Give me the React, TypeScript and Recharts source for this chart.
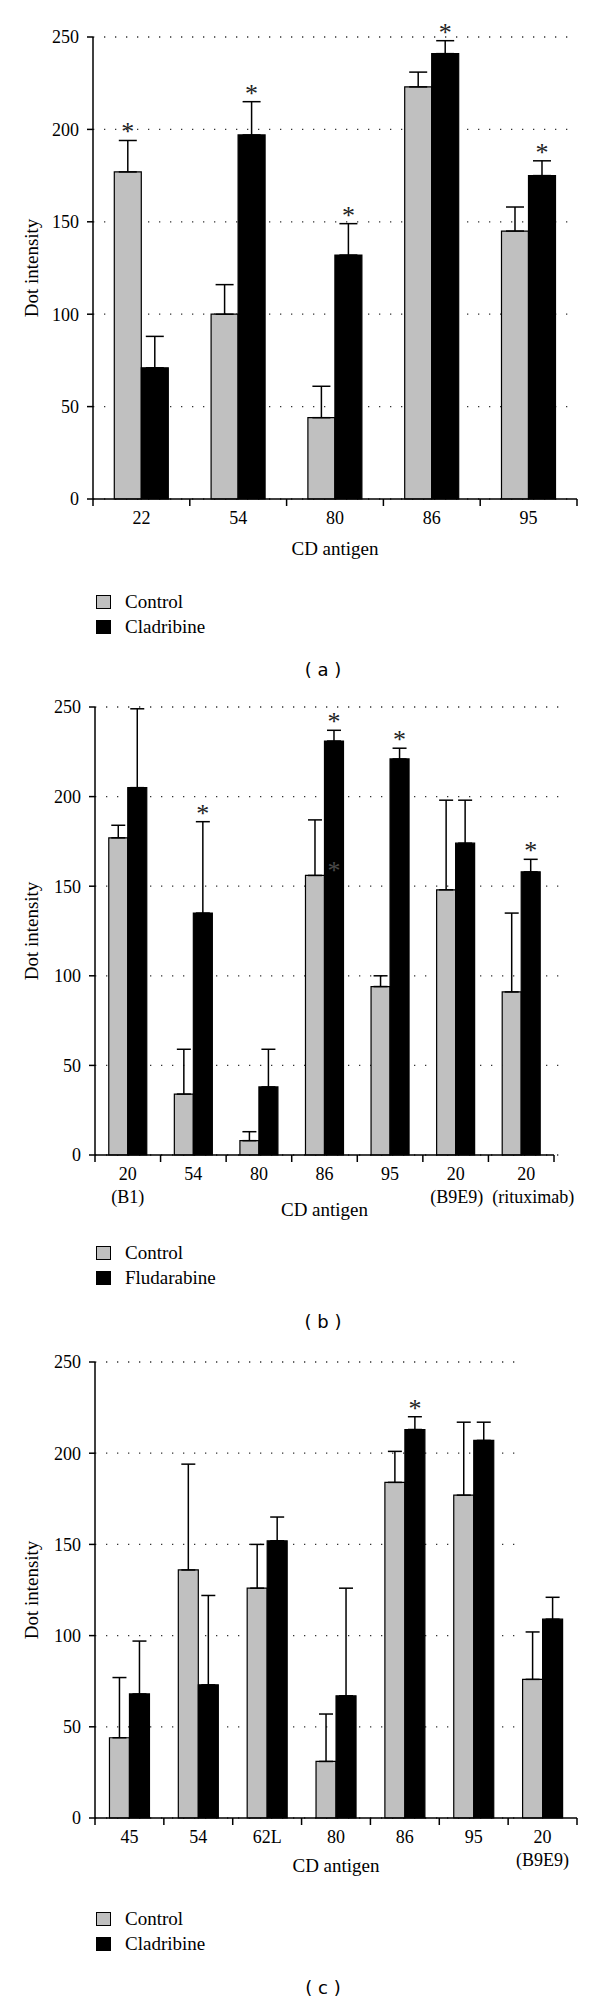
import React from 'react'
import { BarChart, Bar, XAxis, YAxis, CartesianGrid, ErrorBar, LabelList, Legend } from 'recharts'

const SERIF = '"Liberation Serif", "Times New Roman", serif'
const Y_TICKS = [0, 50, 100, 150, 200, 250]

// (a) CD antigens, control vs cladribine
const A_ANTIGENS = ['22', '54', '80', '86', '95']
const A_CONTROL = [177, 100, 44, 223, 145]
const A_CONTROL_ERR = [17, 16, 17, 8, 13]
const A_DRUG = [71, 197, 132, 241, 175]
const A_DRUG_ERR = [17, 18, 17, 7, 8]
const A_CONTROL_STARS = [true, false, false, false, false]
const A_DRUG_STARS = [false, true, true, true, true]

// (b) control vs fludarabine
const B_ANTIGENS = ['20\n(B1)', '54', '80', '86', '95', '20\n(B9E9)', '20\n(rituximab)']
const B_CONTROL = [177, 34, 8, 156, 94, 148, 91]
const B_CONTROL_ERR = [7, 25, 5, 31, 6, 50, 44]
const B_DRUG = [205, 135, 38, 231, 221, 174, 158]
const B_DRUG_ERR = [44, 51, 21, 6, 6, 24, 7]
const B_CONTROL_STARS = [false, false, false, false, false, false, false]
const B_DRUG_STARS = [false, true, false, true, true, false, true]
// faint stray asterisk printed on the CD86 bar in the original figure
const B_DRUG_GHOST = [null, null, null, 154, null, null, null]

// (c) control vs cladribine, second set
const C_ANTIGENS = ['45', '54', '62L', '80', '86', '95', '20\n(B9E9)']
const C_CONTROL = [44, 136, 126, 31, 184, 177, 76]
const C_CONTROL_ERR = [33, 58, 24, 26, 17, 40, 26]
const C_DRUG = [68, 73, 152, 67, 213, 207, 109]
const C_DRUG_ERR = [29, 49, 13, 59, 7, 10, 12]
const C_CONTROL_STARS = [false, false, false, false, false, false, false]
const C_DRUG_STARS = [false, false, false, false, true, false, false]

const TICK_SIZE = 7
const TICK_MARGIN = 5
const CHART_W = 600
const Y_AXIS_W = 73
const SERIES_ORDER = ['control', 'drug']

function AntigenTick(props: any) {
  const { x, y, payload, index, visibleTicksCount, band, shift } = props
  const axisY = y - TICK_SIZE - TICK_MARGIN
  const lines = String(payload.value).split('\n')
  const last = index === visibleTicksCount - 1
  const dxs: number[] = (shift && shift[index]) || []
  return (
    <g>
      <line x1={x - band / 2} x2={x - band / 2} y1={axisY} y2={axisY + TICK_SIZE} stroke="#000" strokeWidth={1.5} />
      {last && (
        <line x1={x + band / 2} x2={x + band / 2} y1={axisY} y2={axisY + TICK_SIZE} stroke="#000" strokeWidth={1.5} />
      )}
      <text x={x} y={y} textAnchor="middle" fontSize={18} fill="#000" fontFamily={SERIF}>
        {lines.map((l, i) => (
          <tspan key={i} x={x + (dxs[i] || 0)} dy={i === 0 ? '0.71em' : '1.3em'}>
            {l}
          </tspan>
        ))}
      </text>
    </g>
  )
}

// asterisks sit just above the error bar cap; pixels per unit come from the bar itself
const starContent =
  (values: number[], errs: number[], stars: boolean[], ghost?: (number | null)[]) => (p: any) => {
    const vb = p.viewBox ?? p
    const i = p.index
    const v = values[i]
    if (!v || vb == null) return null
    const h = Math.abs(vb.height)
    const top = Math.min(vb.y, vb.y + vb.height)
    const perUnit = h / v
    const cx = vb.x + vb.width / 2
    return (
      <g>
        {stars[i] && (
          <text x={cx} y={top - errs[i] * perUnit} textAnchor="middle" fontSize={26} fill="#222" fontFamily={SERIF}>
            *
          </text>
        )}
        {ghost && ghost[i] != null && (
          <text x={cx} y={top + h - (ghost[i] as number) * perUnit} textAnchor="middle" fontSize={26} fill="#4a4a4a" fontFamily={SERIF}>
            *
          </text>
        )}
      </g>
    )
  }

const renderLegend = (props: any) => {
  const items = [...(props.payload || [])].sort(
    (a: any, b: any) => SERIES_ORDER.indexOf(a.dataKey) - SERIES_ORDER.indexOf(b.dataKey)
  )
  return (
    <div style={{ fontFamily: SERIF, fontSize: 19, color: '#000' }}>
      {items.map((item: any) => (
        <div key={item.value} style={{ display: 'flex', alignItems: 'center', height: 25 }}>
          <span
            style={{
              display: 'inline-block',
              width: 13,
              height: 12,
              background: item.color,
              border: '1px solid #000',
            }}
          />
          <span style={{ marginLeft: 14 }}>{item.value}</span>
        </div>
      ))}
    </div>
  )
}

interface PanelProps {
  top: number
  height: number
  antigens: string[]
  control: number[]
  controlErr: number[]
  drug: number[]
  drugErr: number[]
  controlStars: boolean[]
  drugStars: boolean[]
  drugGhost?: (number | null)[]
  drugName: string
  caption: string
  margin: { top: number; right: number; left: number; bottom: number }
  gap: string
  cap: number
  gridTrim: number
  titleOffset: number
  legendTop: number
  captionTop: number
  tickShift?: number[][]
}

function Panel(p: PanelProps) {
  const data = p.antigens.map((name, i) => ({
    name,
    control: p.control[i],
    controlErr: [0, p.controlErr[i]],
    drug: p.drug[i],
    drugErr: [0, p.drugErr[i]],
  }))
  const plotWidth = CHART_W - p.margin.left - p.margin.right - Y_AXIS_W
  const band = plotWidth / p.antigens.length

  return (
    <>
      <div style={{ position: 'absolute', left: 0, top: p.top, fontFamily: SERIF }}>
        <BarChart
          width={CHART_W}
          height={p.height}
          data={data}
          margin={p.margin}
          barCategoryGap={p.gap}
          barGap={0}
        >
          <CartesianGrid
            vertical={false}
            horizontal={(g: any) => (
              <line
                key={g.key}
                x1={g.x1}
                y1={g.y1}
                x2={g.x2 + p.gridTrim}
                y2={g.y2}
                stroke="#333"
                strokeWidth={1.3}
                strokeDasharray="1.3 9.7"
              />
            )}
          />
          <XAxis
            dataKey="name"
            interval={0}
            height={60}
            tickSize={TICK_SIZE}
            tickMargin={TICK_MARGIN}
            tickLine={false}
            axisLine={{ stroke: '#000', strokeWidth: 1.5 }}
            tick={(t: any) => <AntigenTick {...t} band={band} shift={p.tickShift} />}
            label={{
              value: 'CD antigen',
              position: 'insideTop',
              offset: p.titleOffset,
              fontSize: 19,
              fill: '#000',
              fontFamily: SERIF,
            }}
          />
          <YAxis
            domain={[0, 250]}
            ticks={Y_TICKS}
            width={Y_AXIS_W}
            tickSize={6}
            tickMargin={8}
            axisLine={{ stroke: '#000', strokeWidth: 1.5 }}
            tickLine={{ stroke: '#000', strokeWidth: 1.5 }}
            tick={{ fontSize: 18, fill: '#000', fontFamily: SERIF }}
            label={{
              value: 'Dot intensity',
              angle: -90,
              position: 'insideLeft',
              offset: 31 - p.margin.left,
              fontSize: 19,
              fill: '#000',
              fontFamily: SERIF,
              style: { textAnchor: 'middle' },
            }}
          />
          <Legend
            layout="vertical"
            align="center"
            verticalAlign="middle"
            content={renderLegend}
            wrapperStyle={{ left: 96, top: p.legendTop, width: 200, height: 50 }}
          />
          <Bar
            dataKey="control"
            name="Control"
            fill="#c0c0c0"
            stroke="#000"
            strokeWidth={1.2}
            isAnimationActive={false}
          >
            <ErrorBar dataKey="controlErr" width={p.cap} stroke="#000" strokeWidth={1.5} />
            <LabelList content={starContent(p.control, p.controlErr, p.controlStars)} />
          </Bar>
          <Bar
            dataKey="drug"
            name={p.drugName}
            fill="#000"
            stroke="#000"
            strokeWidth={1.2}
            isAnimationActive={false}
          >
            <ErrorBar dataKey="drugErr" width={p.cap} stroke="#000" strokeWidth={1.5} />
            <LabelList content={starContent(p.drug, p.drugErr, p.drugStars, p.drugGhost)} />
          </Bar>
        </BarChart>
      </div>
      <div
        style={{
          position: 'absolute',
          left: 223,
          width: 200,
          top: p.captionTop,
          textAlign: 'center',
          fontFamily: '"DejaVu Sans", sans-serif',
          fontSize: 18,
          lineHeight: '22px',
          whiteSpace: 'pre',
        }}
      >
        {p.caption}
      </div>
    </>
  )
}

export default function App() {
  return (
    <div style={{ position: 'absolute', left: 0, top: 0, width: 600, height: 2000, background: '#fff' }}>
      <Panel
        top={0}
        height={650}
        antigens={A_ANTIGENS}
        control={A_CONTROL}
        controlErr={A_CONTROL_ERR}
        drug={A_DRUG}
        drugErr={A_DRUG_ERR}
        controlStars={A_CONTROL_STARS}
        drugStars={A_DRUG_STARS}
        drugName="Cladribine"
        caption="( a )"
        margin={{ top: 37, right: 23, left: 20, bottom: 91 }}
        gap="22%"
        cap={9}
        gridTrim={-4}
        titleOffset={43}
        legendTop={589}
        captionTop={659}
      />
      <Panel
        top={680}
        height={620}
        antigens={B_ANTIGENS}
        control={B_CONTROL}
        controlErr={B_CONTROL_ERR}
        drug={B_DRUG}
        drugErr={B_DRUG_ERR}
        controlStars={B_CONTROL_STARS}
        drugStars={B_DRUG_STARS}
        drugGhost={B_DRUG_GHOST}
        drugName="Fludarabine"
        caption="( b )"
        margin={{ top: 27, right: 46, left: 22, bottom: 85 }}
        gap="21%"
        cap={7}
        gridTrim={6}
        titleOffset={48}
        legendTop={560}
        captionTop={1311}
        tickShift={[[], [], [], [], [], [0, 1], [5, 12]]}
      />
      <Panel
        top={1330}
        height={640}
        antigens={C_ANTIGENS}
        control={C_CONTROL}
        controlErr={C_CONTROL_ERR}
        drug={C_DRUG}
        drugErr={C_DRUG_ERR}
        controlStars={C_CONTROL_STARS}
        drugStars={C_DRUG_STARS}
        drugName="Cladribine"
        caption="( c )"
        margin={{ top: 32, right: 23, left: 22, bottom: 92 }}
        gap="21%"
        cap={7}
        gridTrim={-54}
        titleOffset={41}
        legendTop={576}
        captionTop={1977}
      />
    </div>
  )
}
